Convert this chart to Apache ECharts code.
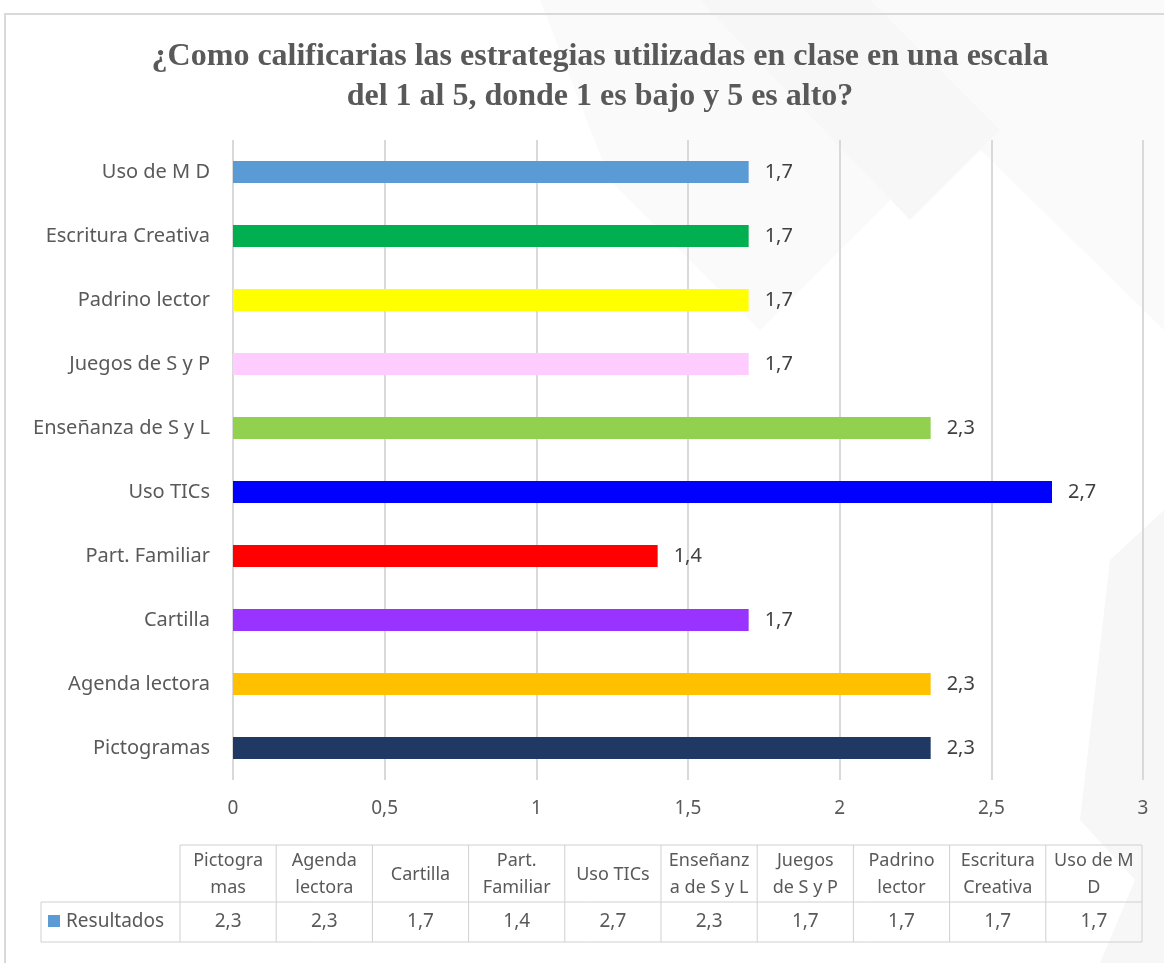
<!DOCTYPE html>
<html>
<head>
<meta charset="utf-8">
<script src="https://cdn.jsdelivr.net/npm/echarts@6/dist/echarts.min.js"></script>
<style>
  html, body { margin: 0; padding: 0; background: #fff; }
  #chart { width: 1164px; height: 963px; }
</style>
</head>
<body>
<div id="chart"></div>
<script>
// categorias de abajo hacia arriba
var categories = ['Pictogramas', 'Agenda lectora', 'Cartilla', 'Part. Familiar', 'Uso TICs',
  'Enseñanza de S y L', 'Juegos de S y P', 'Padrino lector', 'Escritura Creativa', 'Uso de M D']
var resultados = [2.3, 2.3, 1.7, 1.4, 2.7, 2.3, 1.7, 1.7, 1.7, 1.7]
var barColors = ['#1F3864', '#FFC000', '#9933FF', '#FF0000', '#0000FF',
  '#92D050', '#FFCCFF', '#FFFF00', '#00B050', '#5B9BD5']
// encabezados de la tabla (como se parten en dos lineas)
var tableHeaders = [['Pictogra', 'mas'], ['Agenda', 'lectora'], ['Cartilla'], ['Part.', 'Familiar'], ['Uso TICs'],
  ['Enseñanz', 'a de S y L'], ['Juegos', 'de S y P'], ['Padrino', 'lector'], ['Escritura', 'Creativa'], ['Uso de M', 'D']]
var seriesName = 'Resultados'

var fmt = function (v) { return String(v).replace('.', ',') }
var textColor = '#595959'
var font = '"Noto Sans", sans-serif'

// tabla de datos bajo el grafico
function buildTable() {
  var els = []
  var x0 = 180, colW = 96.2, top = 845, mid = 902, bottom = 942, labelX = 41
  var lineColor = '#d0d0d0'
  var right = x0 + colW * categories.length
  var ln = function (x1, y1, x2, y2) {
    return { type: 'line', shape: { x1: x1, y1: y1, x2: x2, y2: y2 }, style: { stroke: lineColor, lineWidth: 1 } }
  }
  els.push(ln(x0, top, right, top))
  els.push(ln(labelX, mid, right, mid))
  els.push(ln(labelX, bottom, right, bottom))
  els.push(ln(labelX, mid, labelX, bottom))
  for (var i = 0; i <= categories.length; i++) {
    els.push(ln(x0 + colW * i, top, x0 + colW * i, bottom))
  }
  for (var j = 0; j < categories.length; j++) {
    var cx = x0 + colW * j + colW / 2
    els.push({
      type: 'text', x: cx, y: (top + mid) / 2 + 1,
      style: { text: tableHeaders[j].join('\n'), fill: textColor, font: '18px ' + font, align: 'center', verticalAlign: 'middle', lineHeight: 27 }
    })
    els.push({
      type: 'text', x: cx, y: (mid + bottom) / 2,
      style: { text: fmt(resultados[j]), fill: textColor, font: '19px ' + font, align: 'center', verticalAlign: 'middle' }
    })
  }
  els.push({ type: 'rect', shape: { x: 48, y: 915, width: 12, height: 12 }, style: { fill: '#5B9BD5' } })
  els.push({
    type: 'text', x: 66, y: (mid + bottom) / 2,
    style: { text: seriesName, fill: textColor, font: '19px ' + font, align: 'left', verticalAlign: 'middle' }
  })
  return els
}

// formas grises muy suaves del fondo y el marco
var backShapes = [
  { type: 'polygon', silent: true, z: -10, shape: { points: [[540, 0], [1164, 0], [1164, 330], [960, 130], [760, 330], [610, 180]] }, style: { fill: '#fafafa' } },
  { type: 'polygon', silent: true, z: -10, shape: { points: [[700, 0], [870, 0], [1000, 130], [910, 220]] }, style: { fill: '#f7f7f7' } },
  { type: 'polygon', silent: true, z: -10, shape: { points: [[1110, 560], [1164, 510], [1164, 963], [1100, 963], [1135, 880], [1080, 820]] }, style: { fill: '#f7f7f7' } },
  { type: 'rect', silent: true, z: -5, shape: { x: 5, y: 14, width: 1180, height: 980 }, style: { fill: 'none', stroke: '#d9d9d9', lineWidth: 2 } }
]

var chart = echarts.init(document.getElementById('chart'))
chart.setOption({
  animation: false,
  title: {
    text: '¿Como calificarias las estrategias utilizadas en clase en una escala\ndel 1 al 5, donde 1 es bajo y 5 es alto?',
    left: 595,
    textAlign: 'center',
    top: 32,
    textStyle: { fontFamily: '"Liberation Serif", "Times New Roman", serif', fontWeight: 'bold', fontSize: 32, color: textColor, lineHeight: 40 }
  },
  grid: { left: 233, right: 21, top: 140, bottom: 183, containLabel: false },
  xAxis: {
    type: 'value', min: 0, max: 3, interval: 0.5,
    axisLine: { show: false },
    axisTick: { show: false },
    splitLine: { lineStyle: { color: '#d9d9d9', width: 2 } },
    axisLabel: { color: textColor, fontSize: 19, fontFamily: font, margin: 19, formatter: fmt }
  },
  yAxis: {
    type: 'category', data: categories,
    axisLine: { show: false },
    axisTick: { show: false },
    axisLabel: { color: textColor, fontSize: 20, fontFamily: font, margin: 23 }
  },
  series: [{
    name: seriesName,
    type: 'bar',
    barWidth: 22,
    data: resultados.map(function (v, i) { return { value: v, itemStyle: { color: barColors[i] } } }),
    label: { show: true, position: 'right', distance: 16, color: '#404040', fontSize: 20, fontFamily: font, formatter: function (p) { return fmt(p.value) } }
  }],
  graphic: backShapes.concat(buildTable())
})
</script>
</body>
</html>
